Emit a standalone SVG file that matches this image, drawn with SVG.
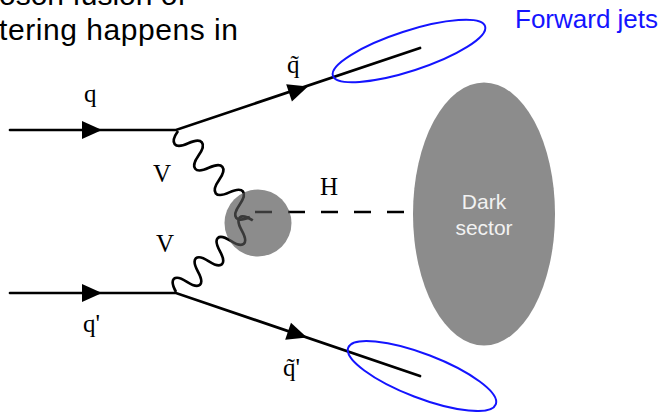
<svg xmlns="http://www.w3.org/2000/svg" xmlns:xlink="http://www.w3.org/1999/xlink" width="663" height="412" viewBox="0 0 663 412">
<style>
.fermion{stroke:#000;stroke-width:2.7;fill:none;stroke-linecap:round}
.boson{stroke:#000;stroke-width:2.7;fill:none}
.scalar{stroke:#000;stroke-width:2.7;fill:none;stroke-dasharray:17 16}
.lbl{font-family:"Liberation Serif","Times New Roman",serif;font-size:25px;fill:#000}
.cap{font-family:"Liberation Sans",Arial,sans-serif;font-size:30px;fill:#000}
.jet{fill:none;stroke:#1414ff;stroke-width:2}
</style>
<defs>
<path id="arrow" d="M0,0 L-20,-9 L-20,9 Z" fill="#000"/>
</defs>
<rect width="663" height="412" fill="#fff"/>
<g id="caption">
<text class="cap" x="-1" y="5">oson fusion of</text>
<text class="cap" x="-1" y="40" textLength="239">tering happens in</text>
</g>
<g id="connectors">
<path class="fermion" d="M10,130 L176,130 L420,48"/>
<path class="fermion" d="M10,293 L176,293 L420,376"/>
<use xlink:href="#arrow" transform="translate(102,130)"/>
<use xlink:href="#arrow" transform="translate(102,293)"/>
<use xlink:href="#arrow" transform="translate(308,86.5) rotate(-18.57)"/>
<use xlink:href="#arrow" transform="translate(307,337.6) rotate(18.78)"/>
<path class="boson" transform="translate(178,131) rotate(50.1)" d="M0,0 c4,14.7 12,14.7 16,0 s12,-14.7 16,0 s12,14.7 16,0 s12,-14.7 16,0 s12,14.7 16,0 s12,-14.7 16,0 s12,14.7 16,0"/>
<path class="boson" transform="translate(176,292) rotate(-43)" d="M0,0 c3.75,-14.7 11.25,-14.7 15,0 s11.25,14.7 15,0 s11.25,-14.7 15,0 s11.25,14.7 15,0 s11.25,-14.7 15,0 s11.25,14.7 15,0 s11.25,-14.7 15,0"/>
<path class="scalar" d="M255,212 L404,212"/>
</g>
<g id="blob">
<circle cx="258" cy="223" r="33.5" fill="#555" fill-opacity="0.68"/>
</g>
<g id="dark-sector">
<ellipse cx="484" cy="214" rx="71" ry="131.5" fill="#8c8c8c"/>
<text x="484" y="209" text-anchor="middle" font-family="Liberation Sans,Arial,sans-serif" font-size="21" fill="#f2f2f2">Dark</text>
<text x="484" y="235" text-anchor="middle" font-family="Liberation Sans,Arial,sans-serif" font-size="21" fill="#f2f2f2">sector</text>
</g>
<g id="jet-top">
<ellipse class="jet" cx="409" cy="51" rx="80" ry="20" transform="rotate(-18 409 51)"/>
</g>
<g id="jet-bottom">
<ellipse class="jet" cx="422" cy="376" rx="79" ry="22" transform="rotate(21 422 376)"/>
</g>
<g id="jets-label">
<text x="515" y="28" font-family="Liberation Sans,Arial,sans-serif" font-size="26" fill="#1414ff">Forward jets</text>
</g>
<g id="labels">
<text class="lbl" x="84" y="102">q</text>
<text class="lbl" x="287" y="73">q̃</text>
<text class="lbl" x="153" y="182">V</text>
<text class="lbl" x="156" y="252">V</text>
<text class="lbl" x="320" y="195">H</text>
<text class="lbl" x="83" y="332">q'</text>
<text class="lbl" x="283" y="376">q̃'</text>
</g>
</svg>
